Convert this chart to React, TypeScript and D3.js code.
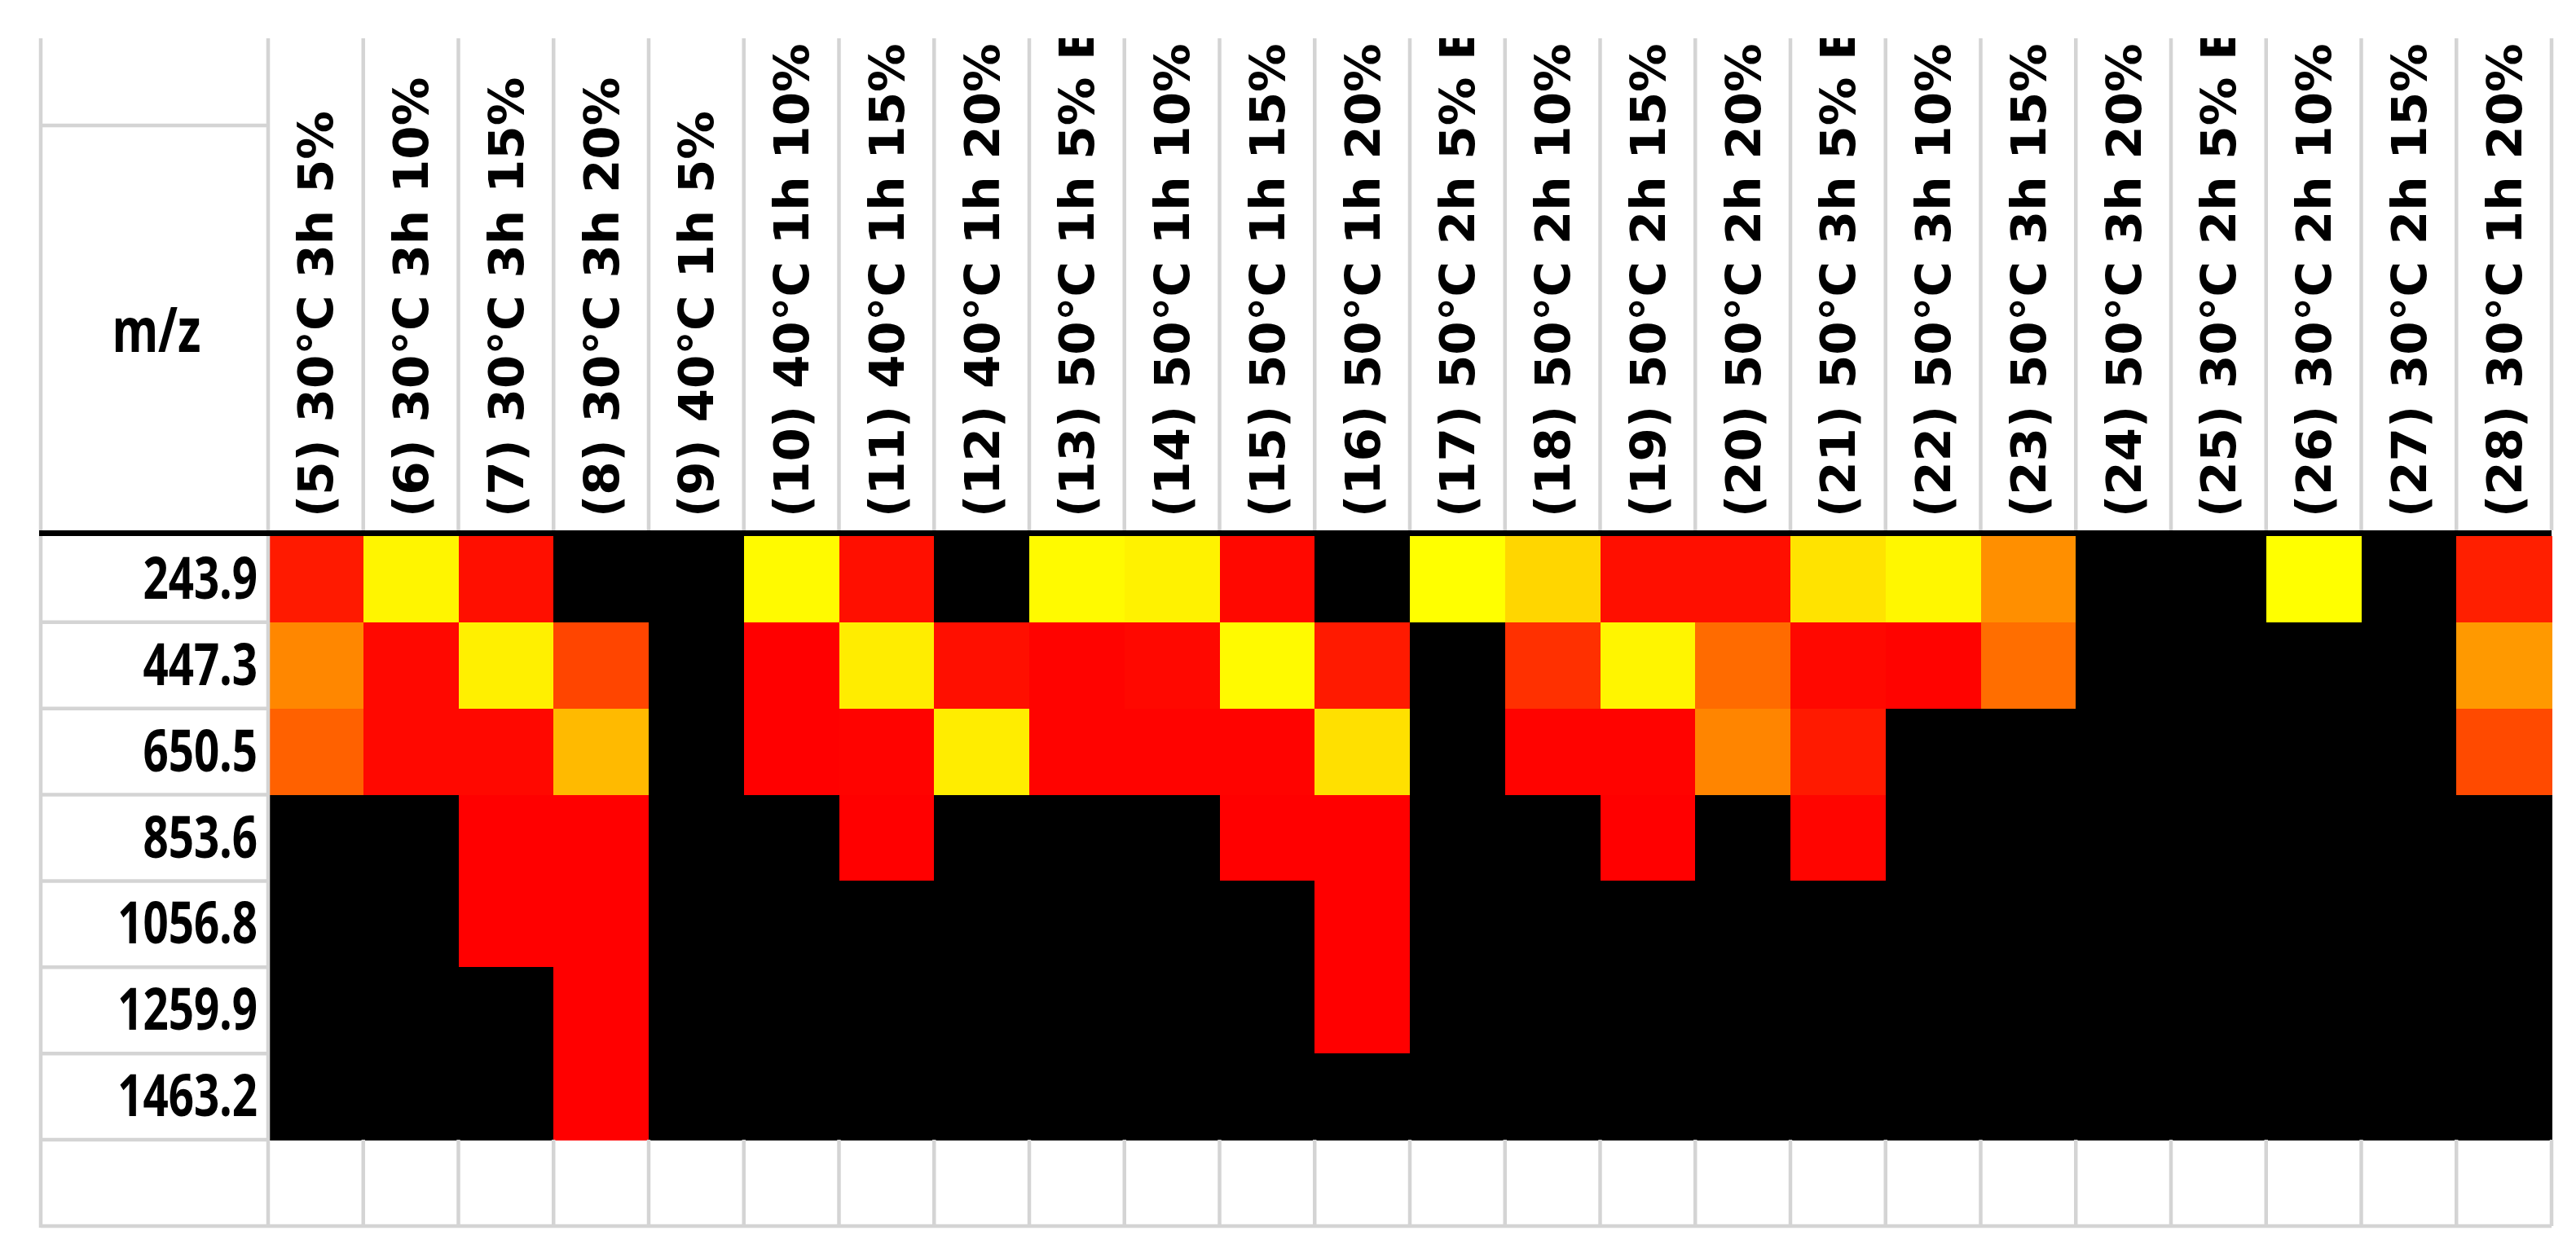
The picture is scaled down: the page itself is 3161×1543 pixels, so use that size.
import React from 'react';
import * as d3 from 'd3';

// column headers (conditions)
const conditions = [
  '(5) 30°C 3h 5%', '(6) 30°C 3h 10%', '(7) 30°C 3h 15%', '(8) 30°C 3h 20%',
  '(9) 40°C 1h 5%', '(10) 40°C 1h 10%', '(11) 40°C 1h 15%', '(12) 40°C 1h 20%',
  '(13) 50°C 1h 5% E', '(14) 50°C 1h 10%', '(15) 50°C 1h 15%', '(16) 50°C 1h 20%',
  '(17) 50°C 2h 5% E', '(18) 50°C 2h 10%', '(19) 50°C 2h 15%', '(20) 50°C 2h 20%',
  '(21) 50°C 3h 5% E', '(22) 50°C 3h 10%', '(23) 50°C 3h 15%', '(24) 50°C 3h 20%',
  '(25) 30°C 2h 5% E', '(26) 30°C 2h 10%', '(27) 30°C 2h 15%', '(28) 30°C 1h 20%',
];

// m/z rows
const mzLabels = ['243.9', '447.3', '650.5', '853.6', '1056.8', '1259.9', '1463.2'];

// relative intensity, 0 = red .. 1 = yellow, null = not detected (black)
const mz243_9 = [0.10, 0.96, 0.06, null, null, 0.98, 0.06, null, 0.98, 0.95, 0.03, null, 1.0, 0.84, 0.06, 0.06, 0.89, 0.97, 0.56, null, null, 1.0, null, 0.12];
const mz447_3 = [0.53, 0.03, 0.94, 0.27, null, 0.0, 0.93, 0.06, 0.01, 0.03, 0.98, 0.10, null, 0.19, 0.96, 0.42, 0.03, 0.01, 0.43, null, null, null, null, 0.60];
const mz650_5 = [0.38, 0.03, 0.03, 0.73, null, 0.0, 0.01, 0.93, 0.01, 0.01, 0.01, 0.88, null, 0.01, 0.01, 0.52, 0.10, null, null, null, null, null, null, 0.29];
const mz853_6 = [null, null, 0.0, 0.0, null, null, 0.0, null, null, null, 0.0, 0.0, null, null, 0.0, null, 0.02, null, null, null, null, null, null, null];
const mz1056_8 = [null, null, 0.0, 0.0, null, null, null, null, null, null, null, 0.0, null, null, null, null, null, null, null, null, null, null, null, null];
const mz1259_9 = [null, null, null, 0.0, null, null, null, null, null, null, null, 0.0, null, null, null, null, null, null, null, null, null, null, null, null];
const mz1463_2 = [null, null, null, 0.0, null, null, null, null, null, null, null, null, null, null, null, null, null, null, null, null, null, null, null, null];

const rowValues = [mz243_9, mz447_3, mz650_5, mz853_6, mz1056_8, mz1259_9, mz1463_2];

const W = 3161;
const H = 1543;
const left = 50;
const labelRight = 329;
const right = 3131;
const top = 47;
const headerBottom = 651;
const dataTop = 658;
const dataBottom = 1399;
const bottom = 1505;
const grid = '#d4d4d4';

export default function App() {
  const x = d3.scaleBand<string>().domain(conditions).range([labelRight, right]);
  const y = d3.scaleBand<string>().domain(mzLabels).range([dataTop, dataBottom]);
  const color = d3.scaleLinear<string>().domain([0, 1]).range(['#ff0000', '#ffff00']);

  const cells = rowValues.flatMap((vals, ri) =>
    vals.map((v, ci) => ({ mz: mzLabels[ri], cond: conditions[ci], v }))
  );

  const colEdges = conditions.map((c) => x(c)!).concat([right]);
  const rowEdges = mzLabels.map((m) => y(m)!).concat([dataBottom]);

  return (
    <svg width={W} height={H} style={{ position: 'absolute', left: 0, top: 0, background: '#fff' }}>
      <defs>
        <clipPath id="hdr">
          <rect x={labelRight} y={top} width={right - labelRight} height={headerBottom - top} />
        </clipPath>
      </defs>

      {/* heat cells */}
      <g shapeRendering="crispEdges">
        {cells.map((d, i) => (
          <rect
            key={i}
            x={x(d.cond)!}
            y={y(d.mz)!}
            width={x.bandwidth() + 0.5}
            height={y.bandwidth() + 0.5}
            fill={d.v === null ? '#000' : color(d.v)}
          />
        ))}
      </g>

      {/* grid lines */}
      <g stroke={grid} strokeWidth={4.5}>
        <line x1={left} x2={left} y1={top} y2={bottom + 2} />
        <line x1={left} x2={labelRight} y1={154} y2={154} />
        {colEdges.map((cx, i) => (
          <g key={i}>
            <line x1={cx} x2={cx} y1={top} y2={headerBottom} />
            <line x1={cx} x2={cx} y1={dataBottom} y2={bottom} />
          </g>
        ))}
        <line x1={labelRight} x2={labelRight} y1={dataTop} y2={dataBottom} />
        {rowEdges.slice(1).map((ry, i) => (
          <line key={i} x1={left} x2={labelRight - 2} y1={ry} y2={ry} />
        ))}
        <line x1={left} x2={right} y1={bottom} y2={bottom} />
      </g>

      {/* thick header rule */}
      <rect x={left - 2} y={headerBottom} width={right - left + 2} height={dataTop - headerBottom} fill="#000" />

      {/* header texts */}
      <g clipPath="url(#hdr)" fontFamily="'DejaVu Sans', Verdana, sans-serif" fontWeight="bold" fontSize={59.5}>
        {conditions.map((c) => (
          <text
            key={c}
            transform={`translate(${x(c)! + x.bandwidth() / 2 + 21}, 635) rotate(-90)`}
            textAnchor="start"
          >
            {c}
          </text>
        ))}
      </g>

      {/* m/z label */}
      <g fontFamily="'Noto Sans', 'Open Sans', sans-serif" fontWeight="bold">
        <text transform={`translate(192, 432) scale(0.76, 1)`} textAnchor="middle" fontSize={76}>
          m/z
        </text>
        {mzLabels.map((m) => (
          <text
            key={m}
            transform={`translate(316, ${y(m)! + y.bandwidth() / 2 + 24}) scale(0.77, 1)`}
            textAnchor="end"
            fontSize={71}
          >
            {m}
          </text>
        ))}
      </g>
    </svg>
  );
}
